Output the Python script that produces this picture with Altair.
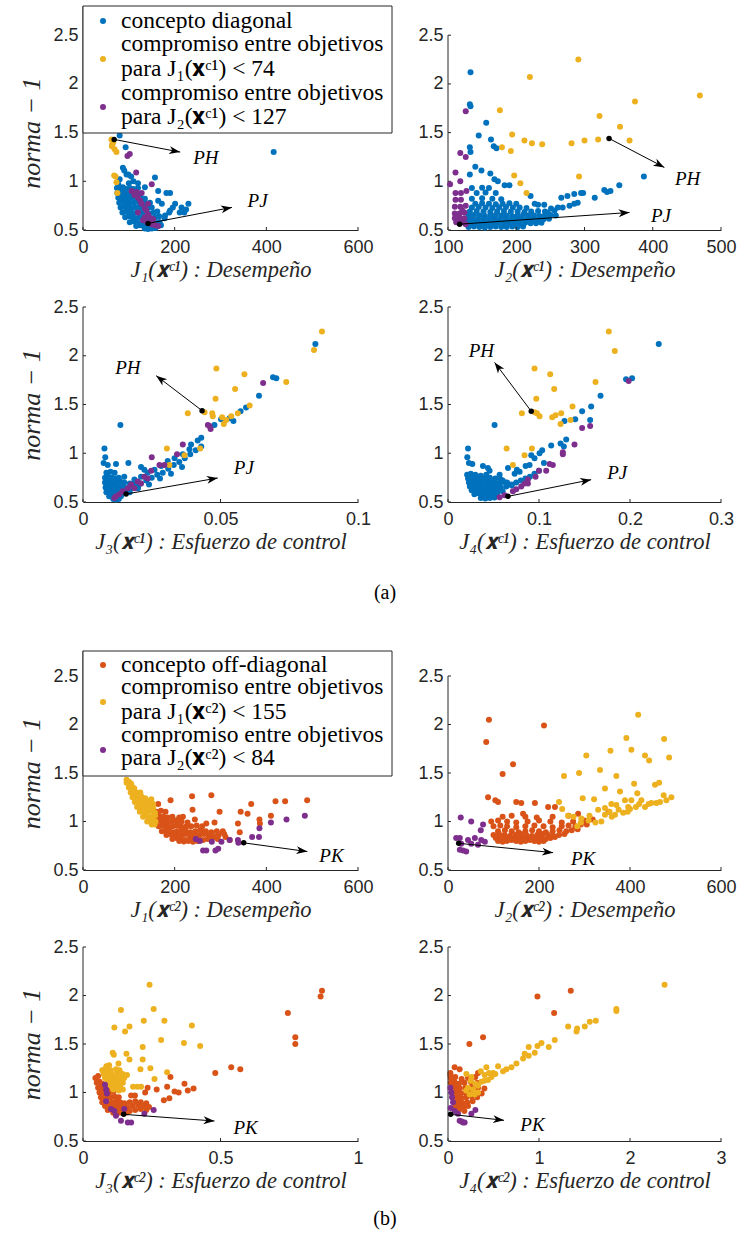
import math
import altair as alt
import pandas as pd

# ---------------- style constants ----------------
C_BLUE = "#0072BD"
C_ORANGE = "#D95319"
C_YELLOW = "#EDB120"
C_PURPLE = "#7E2F8E"
C_AXIS = "#262626"
SERIF = "Liberation Serif"
SANS = "Liberation Sans"
PT_SIZE = 36
HEAD_PATH = "M0,0L-1,-0.36L-0.72,0L-1,0.36Z"

Y_TICKS = [0.5, 1, 1.5, 2, 2.5]
BX = "\U0001D431"

# ---------------- data: (a) concepto diagonal ----------------
A1_MAIN = [(416,1.30),(80,1.47),(93,1.35),(87,1.14),(95,1.07),(90,1.11),(99,1.07),(80,1.02),(105,1.05),(157,1.04),
           (164,0.90),(135,0.94),(182,0.88),(190,0.88),(201,0.77),(215,0.73),(230,0.77),(221,0.68),(190,0.70),(179,0.65),
           (172,0.77),(164,0.80),(211,0.68),(225,0.71),(196,0.73),(167,0.58),(178,0.62),(188,0.68),(120,0.98),(110,1.00),
           (100,0.98),(77,0.97),
           (74,.93),(80,.93),(87,.94),(94,.92),(102,.93),(110,.92),(120,.93),
           (75,.88),(82,.89),(90,.88),(98,.87),(106,.88),(115,.88),(125,.87),
           (77,.83),(84,.84),(92,.83),(100,.82),(108,.83),(117,.84),(126,.83),(135,.82),
           (79,.78),(86,.79),(94,.78),(102,.77),(110,.78),(119,.79),(128,.78),(137,.77),(146,.78),
           (82,.73),(90,.74),(98,.73),(106,.72),(114,.73),(122,.74),(131,.73),(140,.72),(150,.73),
           (86,.68),(94,.69),(102,.68),(110,.67),(118,.68),(126,.69),(135,.68),(144,.67),(154,.68),(162,.69),
           (92,.63),(100,.64),(108,.63),(116,.62),(124,.63),(132,.64),(141,.63),(150,.62),(158,.63),(166,.64),
           (102,.58),(110,.59),(118,.58),(126,.57),(134,.58),(142,.59),(150,.58),(158,.57),(166,.58),
           (116,.54),(124,.55),(132,.54),(140,.53),(148,.54),(156,.55),(164,.54),(170,.55),
           (135,.515),(142,.51),(150,.515),(158,.52)]
A1_J1 = [(62,1.43),(64,1.38),(69,1.33),(73,1.30),(66,1.40),(63,1.36),(71,1.05),(68,1.06),(73,0.99),(75,0.88)]
A1_J2 = [(97,1.26),(102,1.28),(116,1.09),(150,0.97),(106,0.90),(117,0.89),(128,0.88),(120,0.83),(128,0.77),(142,0.77),
         (135,0.72),(120,0.68),(142,0.66),(153,0.61),(146,0.58),(157,0.55),(131,0.60),(164,0.54),(135,0.63),(112,0.86),
         (125,0.80),(138,0.70),(150,0.56),(140,0.58),(148,0.62)]

A2_MAIN = [(133,2.12),(132,1.79),(133,1.77),(156,1.60),(145,1.47),(163,1.43),(167,1.36),(171,1.34),(132,1.35),(133,1.30),
           (140,1.15),(149,1.11),(132,1.07),(162,1.08),(168,1.02),(173,1.00),(183,0.96),(190,0.96),(221,0.85),(387,1.05),
           (351,0.96),(266,0.83),(275,0.85),(285,0.87),(295,0.88),(298,0.88),(315,0.83),(329,0.91),(333,0.89),(338,0.90),
           (268,0.73),(278,0.75),(285,0.77),(290,0.78),(261,0.73),(251,0.72),(241,0.76),(232,0.76),(227,0.77),(256,0.70),
           (246,0.68),
           (130,.53),(138,.535),(146,.53),(154,.525),(162,.53),(170,.535),(178,.53),(186,.53),(194,.535),(202,.53),(210,.535),
           (125,.57),(133,.57),(141,.575),(149,.57),(157,.565),(165,.57),(173,.575),(181,.57),(189,.57),(197,.565),(205,.57),
           (213,.575),(221,.57),(229,.57),(237,.575),
           (128,.61),(136,.615),(144,.61),(152,.605),(160,.61),(168,.615),(176,.61),(184,.61),(192,.605),(200,.61),(208,.615),
           (216,.61),(224,.61),(232,.605),(240,.61),(248,.615),
           (130,.65),(138,.655),(146,.65),(154,.645),(162,.65),(170,.655),(178,.65),(186,.65),(194,.645),(202,.65),(210,.655),
           (218,.65),(226,.65),(234,.645),(242,.65),(250,.655),(258,.65),
           (132,.69),(142,.695),(152,.69),(162,.685),(172,.69),(182,.695),(192,.69),(202,.69),(212,.685),(222,.69),(232,.695),(242,.69),
           (135,.73),(145,.735),(155,.73),(165,.725),(175,.73),(185,.735),(195,.73),(205,.73),(215,.725),
           (140,.77),(150,.775),(160,.77),(170,.765),(180,.77),(190,.775),(200,.77),
           (135,.82),(150,.825),(165,.82),(178,.815),(142,.88),(155,.885),(170,.88),(135,.93),(150,.935),(160,.93)]
A2_J1 = [(291,2.25),(220,2.07),(469,1.88),(374,1.82),(176,1.73),(322,1.67),(352,1.56),(194,1.48),(212,1.42),(223,1.39),
         (238,1.38),(179,1.35),(192,1.31),(281,1.39),(300,1.42),(320,1.43),(366,1.42),(197,1.06),(206,0.98),(215,0.88),(292,1.05)]
A2_J2 = [(126,1.72),(118,1.29),(126,1.25),(111,1.09),(103,0.97),(118,1.00),(111,0.88),(119,0.88),(127,0.90),(111,0.81),
         (119,0.81),(110,0.74),(118,0.74),(126,0.75),(110,0.67),(117,0.67),(124,0.68),(110,0.62),(117,0.62),(124,0.62),
         (112,0.58),(120,0.58),(126,0.56),(114,0.65),(121,0.70)]

A3_MAIN = [(0.0136,1.29),(0.0845,2.12),(0.0691,1.78),(0.0703,1.77),(0.0640,1.59),(0.0593,1.47),(0.0573,1.43),(0.0547,1.33),
           (0.0502,1.35),(0.0533,1.36),(0.0478,1.29),(0.0430,1.16),(0.0417,1.13),(0.0393,1.09),(0.0387,1.04),(0.0363,0.99),
           (0.0333,0.95),(0.0308,0.92),(0.0284,0.87),(0.0260,0.83),(0.0235,0.80),(0.0211,0.76),(0.0187,0.73),(0.0078,1.05),
           (0.0081,0.96),(0.0075,0.90),(0.0090,0.88),(0.0120,0.89),(0.0165,0.90),(0.0211,0.86),(0.0223,0.83),
           (0.017,0.63),(0.019,0.66),(0.021,0.69),(0.023,0.72),(0.025,0.75),(0.027,0.78),(0.029,0.80),(0.031,0.84),(0.033,0.88),
           (0.035,0.91),(0.037,0.95),(0.039,0.99),(0.041,1.03),(0.043,1.07),(0.020,0.64),(0.024,0.68),(0.028,0.74),(0.032,0.79),
           (0.036,0.86),
           (0.0085,.80),(0.0100,.81),(0.0115,.80),
           (0.0080,.75),(0.0092,.76),(0.0105,.75),(0.0118,.74),(0.0130,.75),(0.0150,.76),
           (0.0080,.70),(0.0090,.71),(0.0100,.70),(0.0110,.69),(0.0120,.70),(0.0135,.71),(0.0150,.70),(0.0170,.69),(0.0190,.70),
           (0.0082,.65),(0.0092,.66),(0.0102,.65),(0.0112,.64),(0.0122,.65),(0.0135,.66),(0.0150,.65),(0.0165,.64),(0.0180,.65),(0.0200,.66),
           (0.0085,.60),(0.0095,.61),(0.0105,.60),(0.0115,.59),(0.0125,.60),(0.0140,.61),(0.0155,.60),(0.0170,.60),
           (0.0095,.56),(0.0105,.57),(0.0115,.56),(0.0125,.55),(0.0138,.56),(0.0110,.53),(0.0120,.525),(0.0130,.53)]
A3_J1 = [(0.0869,2.25),(0.0840,2.06),(0.0485,1.87),(0.0587,1.81),(0.0739,1.73),(0.0553,1.66),(0.0482,1.56),(0.0381,1.41),
         (0.0442,1.42),(0.0470,1.41),(0.0472,1.38),(0.0506,1.37),(0.0512,1.30),(0.0521,1.34),(0.0539,1.38),(0.0563,1.41),
         (0.0606,1.49),(0.0305,1.05),(0.0369,0.98),(0.0314,0.88),(0.0426,1.05)]
A3_J2 = [(0.0655,1.72),(0.0460,1.28),(0.0464,1.25),(0.0454,1.29),(0.0363,1.09),(0.0342,0.99),(0.0250,0.96),(0.0278,0.88),
         (0.0296,0.88),(0.0248,0.82),(0.0223,0.76),(0.0199,0.71),(0.0175,0.68),(0.0163,0.64),(0.0144,0.61),(0.0132,0.58),
         (0.0120,0.56),(0.0114,0.54),(0.0187,0.64),(0.0211,0.69),(0.0235,0.74)]

A4_MAIN = [(0.2316,2.12),(0.2023,1.77),(0.1957,1.76),(0.1676,1.59),(0.1573,1.48),(0.1474,1.43),(0.1398,1.35),(0.1280,1.33),
           (0.1562,1.34),(0.0512,1.29),(0.1299,1.14),(0.1237,1.10),(0.1273,1.07),(0.1134,1.08),(0.1035,1.03),(0.1006,1.00),
           (0.0951,0.95),(0.0915,0.98),(0.1054,0.90),(0.0896,0.88),(0.0853,0.87),(0.0787,0.81),(0.0732,0.79),(0.0659,0.85),
           (0.0757,0.83),(0.0220,1.05),(0.0212,0.96),(0.0230,0.90),(0.0267,0.89),(0.0384,0.87),(0.0439,0.85),(0.0457,0.82),
           (0.0567,0.78),(0.075,0.70),(0.080,0.72),(0.085,0.74),(0.090,0.76),(0.095,0.79),(0.100,0.82),(0.070,0.68),(0.065,0.70),
           (0.060,0.72),
           (0.021,.78),(0.025,.79),(0.030,.78),(0.036,.77),(0.042,.78),
           (0.022,.74),(0.026,.75),(0.031,.74),(0.036,.73),(0.041,.74),(0.046,.75),(0.052,.74),(0.058,.73),
           (0.023,.70),(0.027,.71),(0.032,.70),(0.037,.69),(0.042,.70),(0.047,.71),(0.052,.70),(0.057,.69),(0.063,.70),
           (0.024,.66),(0.028,.67),(0.033,.66),(0.038,.65),(0.043,.66),(0.048,.67),(0.053,.66),(0.058,.65),(0.064,.66),(0.070,.67),
           (0.026,.62),(0.030,.63),(0.035,.62),(0.040,.61),(0.045,.62),(0.050,.63),(0.055,.62),(0.060,.61),
           (0.029,.58),(0.034,.59),(0.039,.58),(0.044,.57),(0.049,.58),(0.054,.59),
           (0.036,.54),(0.041,.535),(0.046,.54),(0.051,.545)]
A4_J1 = [(0.1767,2.25),(0.1833,2.05),(0.0951,1.87),(0.1123,1.81),(0.1621,1.73),(0.1167,1.66),(0.0970,1.56),(0.0812,1.41),
         (0.0951,1.42),(0.0977,1.41),(0.1006,1.38),(0.1145,1.37),(0.1182,1.39),(0.1244,1.41),(0.1237,1.30),(0.1346,1.34),
         (0.1368,1.48),(0.0644,1.05),(0.0922,1.05),(0.0841,0.98),(0.0713,0.88)]
A4_J2 = [(0.1985,1.74),(0.1474,1.26),(0.1562,1.28),(0.1390,1.09),(0.1262,0.99),(0.1262,1.01),(0.1152,0.88),(0.1116,0.89),
         (0.1079,0.82),(0.0999,0.82),(0.0962,0.76),(0.0878,0.73),(0.0841,0.69),(0.0805,0.66),(0.0750,0.63),(0.0713,0.61),
         (0.0622,0.57),(0.0567,0.55),(0.0878,0.69)]

# ---------------- data: (b) concepto off-diagonal ----------------
B1_MAIN = [(489,1.22),(441,1.21),(420,1.21),(410,1.06),(367,1.18),(344,1.10),(359,1.08),(385,1.02),(386,0.98),(338,0.98),
           (342,0.89),(280,1.27),(298,1.10),(269,0.98),(287,0.99),(238,1.26),(239,1.12),(244,1.02),(191,1.22),(204,1.01),
           (164,1.18),(218,1.05),(226,0.95),(258,0.91),(305,0.90),(311,0.84),(320,0.81),
           (160,1.10),(170,1.11),(180,1.10),
           (158,1.05),(165,1.06),(175,1.05),(185,1.04),(195,1.05),(210,1.04),
           (160,1.00),(168,1.01),(176,1.00),(185,0.99),(195,1.00),(205,1.01),(215,1.00),(228,0.99),
           (165,.95),(172,.96),(180,.95),(188,.94),(196,.95),(205,.96),(214,.95),(224,.94),(236,.95),(248,.96),(260,.95),
           (172,.90),(180,.91),(188,.90),(196,.89),(205,.90),(214,.91),(224,.90),(234,.89),(245,.90),(256,.91),(268,.90),(280,.89),(292,.90),
           (182,.86),(190,.87),(198,.86),(206,.85),(215,.86),(224,.87),(234,.86),(244,.85),(254,.86),(264,.87),(274,.86),(284,.85),(296,.86),(308,.87),
           (195,.82),(204,.83),(213,.82),(222,.81),(232,.82),(242,.83),(252,.82),(262,.81),(272,.82),(282,.83),(294,.82),
           (210,.80),(220,.795),(230,.80),(240,.79),(250,.80)]
B1_J1 = [(113,1.50),(144,1.50),(95,1.43),(102,1.40),(109,1.35),(127,1.26),(116,1.30),(149,1.23),(153,1.18),
         (95,1.40),(100,1.41),(105,1.39),(100,1.35),(106,1.36),(112,1.34),(104,1.30),(110,1.31),(116,1.29),(125,1.30),
         (108,1.25),(114,1.26),(120,1.24),(128,1.25),(136,1.24),(113,1.20),(119,1.21),(125,1.19),(132,1.20),(140,1.21),
         (150,1.19),(118,1.15),(124,1.16),(130,1.14),(137,1.15),(145,1.16),(153,1.14),(124,1.10),(130,1.11),(136,1.09),
         (143,1.10),(150,1.11),(157,1.09),(131,1.05),(137,1.06),(144,1.04),(151,1.05),(157,1.06),(140,1.00),(147,1.01),
         (153,0.99),(158,1.00),(150,0.97),(156,0.97)]
B1_J2 = [(246,0.82),(255,0.80),(281,0.79),(302,0.79),(320,0.81),(338,0.81),(339,0.78),(262,0.70),(269,0.70),(289,0.70),
         (295,0.72),(369,0.84),(384,0.84),(385,0.93),(410,0.99),(444,1.02),(484,1.06)]

B2_MAIN = [(90,2.05),(211,1.99),(84,1.82),(143,1.59),(120,1.49),(88,1.25),(104,1.22),(110,1.20),(150,1.20),(161,1.19),
           (191,1.19),(220,1.15),(235,1.15),(165,1.08),(286,1.08),(353,1.10),
           (110,.80),(120,.79),(130,.80),(140,.81),(150,.80),(160,.79),(170,.80),(180,.81),(190,.80),(200,.79),(210,.80),
           (105,.83),(115,.84),(125,.83),(135,.82),(145,.83),(155,.84),(165,.83),(175,.82),(185,.83),(195,.84),(205,.83),
           (215,.82),(225,.83),(235,.84),
           (100,.86),(112,.87),(124,.86),(136,.85),(148,.86),(160,.87),(172,.86),(184,.85),(196,.86),(208,.87),(220,.86),
           (232,.85),(244,.86),(256,.87),
           (110,.90),(125,.91),(140,.90),(155,.89),(170,.90),(185,.91),(200,.90),(215,.89),(230,.90),(245,.91),(260,.90),
           (272,.91),(285,.92),
           (100,.95),(115,.96),(130,.95),(150,.94),(170,.95),(190,.96),(210,.95),(230,.94),(250,.95),(265,.96),(280,.95),
           (292,.97),(305,.97),
           (95,1.00),(110,1.01),(130,1.00),(150,0.99),(175,1.00),(200,1.01),(225,1.00),(250,0.99),(275,1.00),(300,1.01),(318,1.02),
           (120,1.05),(140,1.06),(170,1.05),(195,1.04),(230,1.05),(265,1.06)]
B2_J1 = [(418,2.10),(392,1.86),(475,1.85),(357,1.73),(403,1.74),(433,1.68),(442,1.63),(486,1.66),(304,1.68),(288,1.50),
         (255,1.47),(334,1.53),(370,1.47),(345,1.34),(378,1.31),(409,1.39),(455,1.38),(464,1.40),(296,1.24),(321,1.23),
         (359,1.18),(389,1.22),(416,1.29),(403,1.22),(491,1.25),(474,1.27),(244,1.20),(251,1.13),(264,1.06),(276,1.05),
         (292,0.99),(309,1.01),(311,1.06),(324,0.99),(337,1.00),(345,1.07),(367,1.07),(385,1.09),(396,1.15),(413,1.15),
         (433,1.15),(447,1.19),(458,1.19),(466,1.20),(441,1.18),(425,1.22),(345,1.14),(370,1.17),(330,1.12),(293,1.03),
         (284,0.95),(355,1.10),(375,1.12),(400,1.13),(420,1.18),(480,1.22),(360,1.05),(395,1.10)]
B2_J2 = [(28,1.04),(51,1.00),(77,0.97),(72,0.91),(18,0.83),(26,0.83),(44,0.81),(29,0.77),(33,0.70),(40,0.69),(26,0.71),
         (51,0.77),(66,0.76),(73,0.81),(81,0.79),(59,0.83)]

B3_MAIN = [(0.864,1.99),(0.869,2.05),(0.745,1.82),(0.772,1.57),(0.772,1.50),(0.539,1.26),(0.572,1.24),(0.481,1.20),
           (0.318,1.16),(0.369,1.09),(0.402,1.04),(0.306,1.06),(0.333,1.01),(0.348,1.00),(0.381,1.02),(0.294,0.92),
           (0.314,0.94),(0.268,1.03),(0.226,1.00),(0.235,1.05),(0.189,0.97),(0.175,0.97),
           (0.045,1.15),(0.055,1.17),(0.050,1.10),(0.060,1.11),(0.070,1.09),
           (0.055,1.05),(0.065,1.06),(0.075,1.04),(0.090,1.05),
           (0.060,1.00),(0.070,1.01),(0.080,0.99),(0.095,1.00),(0.110,1.01),
           (0.065,.95),(0.075,.96),(0.085,.94),(0.100,.95),(0.115,.96),(0.130,.95),
           (0.070,.90),(0.080,.91),(0.090,.89),(0.105,.90),(0.120,.91),(0.135,.90),(0.150,.89),(0.170,.90),(0.190,.91),(0.210,.90),(0.230,.89),
           (0.080,.86),(0.090,.87),(0.100,.85),(0.115,.86),(0.130,.87),(0.145,.86),(0.160,.85),(0.180,.86),(0.200,.87),(0.220,.86),(0.240,.85),
           (0.090,.82),(0.100,.83),(0.110,.81),(0.125,.82),(0.140,.83),(0.155,.82),(0.170,.81),(0.190,.82),(0.210,.83),(0.230,.82),
           (0.110,.79),(0.125,.785),(0.140,.79),(0.160,.795)]
B3_J1 = [(0.242,2.11),(0.138,1.85),(0.257,1.86),(0.221,1.74),(0.296,1.74),(0.169,1.68),(0.114,1.67),(0.153,1.63),(0.396,1.69),
         (0.284,1.54),(0.367,1.51),(0.426,1.48),(0.217,1.47),(0.158,1.40),(0.108,1.41),(0.112,1.39),(0.129,1.30),(0.169,1.34),
         (0.217,1.34),(0.245,1.25),(0.209,1.24),(0.306,1.21),(0.260,1.14),(0.182,1.06),(0.197,1.06),(0.211,1.06),(0.133,1.23),
         (0.144,1.19),(0.160,1.18),
         (0.085,1.27),(0.095,1.28),(0.070,1.23),(0.080,1.24),(0.090,1.22),(0.100,1.23),(0.120,1.24),(0.075,1.19),(0.085,1.20),
         (0.095,1.18),(0.105,1.19),(0.125,1.20),(0.140,1.18),(0.080,1.15),(0.090,1.16),(0.100,1.14),(0.110,1.15),(0.120,1.16),
         (0.135,1.14),(0.150,1.15),(0.090,1.11),(0.100,1.12),(0.110,1.10),(0.120,1.11),(0.130,1.12),(0.145,1.10),(0.100,1.07),
         (0.110,1.08),(0.120,1.06),(0.135,1.07),(0.110,1.03),(0.120,1.04),(0.130,1.02),(0.145,1.03)]
B3_J2 = [(0.080,1.08),(0.084,1.03),(0.087,0.99),(0.084,0.91),(0.102,0.83),(0.114,0.81),(0.120,0.76),(0.138,0.71),(0.163,0.69),
         (0.175,0.69),(0.150,0.83),(0.223,0.78),(0.257,0.82)]

B4_MAIN = [(0.983,1.99),(1.349,2.05),(1.166,1.82),(0.385,1.57),(0.235,1.50),(0.026,1.20),(0.073,1.26),(0.128,1.24),(0.073,1.10),
           (0.330,1.20),(0.026,1.18),
           (0.03,1.15),(0.08,1.16),(0.15,1.14),(0.22,1.15),(0.30,1.16),
           (0.03,1.10),(0.07,1.11),(0.12,1.09),(0.18,1.10),(0.25,1.11),(0.32,1.10),
           (0.04,1.05),(0.08,1.06),(0.13,1.04),(0.19,1.05),(0.26,1.06),(0.33,1.05),(0.40,1.04),
           (0.05,1.00),(0.09,1.01),(0.14,0.99),(0.19,1.00),(0.25,1.01),(0.31,1.00),(0.37,0.99),
           (0.06,.95),(0.10,.96),(0.15,.94),(0.20,.95),(0.26,.96),(0.32,.95),
           (0.07,.90),(0.11,.91),(0.16,.89),(0.21,.90),(0.27,.91),
           (0.08,.86),(0.12,.87),(0.17,.85),(0.22,.86),(0.09,.82),(0.13,.83),(0.18,.81)]
B4_J1 = [(2.38,2.11),(1.85,1.86),(1.85,1.84),(1.624,1.74),(1.558,1.73),(1.503,1.68),(1.419,1.66),(1.412,1.63),(1.320,1.68),
         (1.173,1.54),(1.107,1.47),(1.027,1.51),(0.983,1.48),(0.887,1.47),(0.953,1.41),(0.843,1.40),(0.887,1.38),(0.825,1.35),
         (0.752,1.30),(0.697,1.26),(0.642,1.24),(0.605,1.22),(0.550,1.27),(0.422,1.26),(0.495,1.20),(0.477,1.16),(0.440,1.13),
         (0.403,1.18),(0.367,1.11),(0.330,1.07),(0.275,1.03),(0.238,0.98),(0.293,0.98),(0.220,1.05),(0.330,1.00),(0.202,1.19),
         (0.257,1.16),(0.36,1.22),(0.45,1.20),(0.52,1.19),(0.40,1.12),(0.30,1.09),(0.25,1.12),(0.20,1.02)]
B4_J2 = [(0.026,1.05),(0.037,1.00),(0.044,0.95),(0.055,0.90),(0.073,0.81),(0.110,0.78),(0.128,0.71),(0.165,0.69),(0.183,0.69),
         (0.257,0.78),(0.301,0.82),(0.029,0.84),(0.15,0.70)]

# arrows: (x_start, y_start, x_tip, y_tip); labels: (x, y, text)
A1_ARROWS = [(68,1.43,212,1.30),(142,0.568,325,0.732)]
A1_LABELS = [(268,1.244,"PH"),(381,0.80,"PJ")]
A2_ARROWS = [(336,1.44,417,1.143),(117,0.56,366,0.68)]
A2_LABELS = [(451,1.02,"PH"),(412,0.647,"PJ")]
A3_ARROWS = [(0.0433,1.437,0.0266,1.796),(0.01566,0.582,0.049,0.746)]
A3_LABELS = [(0.0163,1.87,"PH"),(0.0585,0.85,"PJ")]
A4_ARROWS = [(0.0915,1.43,0.0512,1.932),(0.0659,0.558,0.1573,0.729)]
A4_LABELS = [(0.0366,2.045,"PH"),(0.186,0.797,"PJ")]
B1_ARROWS = [(350.6,0.78,489.5,0.69)]
B1_LABELS = [(542,0.648,"PK")]
B2_ARROWS = [(23.5,0.775,231,0.679)]
B2_LABELS = [(297,0.61,"PK")]
B3_ARROWS = [(0.148,0.775,0.478,0.706)]
B3_LABELS = [(0.591,0.63,"PK")]
B4_ARROWS = [(0.029,0.775,0.616,0.713)]
B4_LABELS = [(0.928,0.665,"PK")]

LEG_A = ["concepto diagonal", "compromiso entre objetivos", "para J\u2081(" + BX + "\u1d9c\u00b9) < 74",
         "compromiso entre objetivos", "para J\u2082(" + BX + "\u1d9c\u00b9) < 127"]
LEG_B = ["concepto off-diagonal", "compromiso entre objetivos", "para J\u2081(" + BX + "\u1d9c\u00b2) < 155",
         "compromiso entre objetivos", "para J\u2082(" + BX + "\u1d9c\u00b2) < 84"]


def xt(i, c, txt):
    return "J" + "\u2080\u2081\u2082\u2083\u2084"[i] + "(" + BX + "\u1d9c" + c + ") : " + txt


def pts(lst):
    return pd.DataFrame({"x": [p[0] for p in lst], "y": [p[1] for p in lst]})


ONE = pd.DataFrame({"k": [0]})


def make_panel(p):
    W, H = p["w"], p["h"]
    xdom, ydom = p["xdom"], p["ydom"]
    sx = alt.Scale(domain=xdom, nice=False, zero=False)
    sy = alt.Scale(domain=ydom, nice=False, zero=False)

    def X(f, axis=None):
        if axis is None:
            return alt.X(f + ":Q", scale=sx)
        return alt.X(f + ":Q", scale=sx, axis=axis)

    def Y(f, axis=None):
        if axis is None:
            return alt.Y(f + ":Q", scale=sy)
        return alt.Y(f + ":Q", scale=sy, axis=axis)

    xaxis = alt.Axis(values=p["xticks"], labelExpr="'' + datum.value", grid=False, ticks=False, tickSize=0,
                     domain=True, domainColor=C_AXIS, domainWidth=1, labelFont=SANS, labelFontSize=18,
                     labelColor=C_AXIS, labelPadding=8, labelFlush=False, labelOverlap=False,
                     title=p["xtitle"], titleFont=SERIF, titleFontSize=22.5, titleFontStyle="italic",
                     titleFontWeight="normal", titleColor=C_AXIS, titleY=46, titleBaseline="alphabetic")
    ykw = dict(values=Y_TICKS, labelExpr="'' + datum.value", grid=False, ticks=False, tickSize=0, domain=False,
               labelFont=SANS, labelFontSize=18, labelColor=C_AXIS, labelPadding=5, labelFlush=False,
               labelOverlap=False)
    if p.get("ytitle"):
        ykw.update(title=p["ytitle"], titleFont=SERIF, titleFontSize=26, titleFontStyle="italic",
                   titleFontWeight="normal", titleColor=C_AXIS, titleAngle=270, titleX=-52,
                   titleY=p["ytitle_y"], titleBaseline="middle", titleAlign="center")
    else:
        ykw.update(title="")
    yaxis = alt.Axis(**ykw)

    layers = []
    layers.append(alt.Chart(pts(p["main"])).mark_circle(size=PT_SIZE, opacity=1, color=p["c_main"])
                  .encode(x=X("x", xaxis), y=Y("y", yaxis)))
    yl = pd.DataFrame({"y0": [ydom[0]], "y1": [p["yline_top"]]})
    layers.append(alt.Chart(yl).mark_rule(color=C_AXIS, strokeWidth=1)
                  .encode(x=alt.value(0), y=Y("y0"), y2=alt.Y2("y1")))
    layers.append(alt.Chart(pd.DataFrame({"x": p["xticks"]})).mark_rule(color=C_AXIS, strokeWidth=1)
                  .encode(x=X("x"), y=alt.value(H), y2=alt.value(H - 3)))
    layers.append(alt.Chart(pd.DataFrame({"y": Y_TICKS})).mark_rule(color=C_AXIS, strokeWidth=1)
                  .encode(y=Y("y"), x=alt.value(0), x2=alt.value(3)))
    layers.append(alt.Chart(pts(p["j1"])).mark_circle(size=PT_SIZE, opacity=1, color=C_YELLOW)
                  .encode(x=X("x"), y=Y("y")))
    layers.append(alt.Chart(pts(p["j2"])).mark_circle(size=PT_SIZE, opacity=1, color=C_PURPLE)
                  .encode(x=X("x"), y=Y("y")))
    sxp = W / (xdom[1] - xdom[0])
    syp = H / (ydom[1] - ydom[0])
    arr = pd.DataFrame({
        "x0": [a[0] for a in p["arrows"]], "y0": [a[1] for a in p["arrows"]],
        "x1": [a[2] for a in p["arrows"]], "y1": [a[3] for a in p["arrows"]],
        "ang": [math.degrees(math.atan2(-(a[3] - a[1]) * syp, (a[2] - a[0]) * sxp)) % 360 for a in p["arrows"]],
    })
    layers.append(alt.Chart(arr).mark_rule(color="black", strokeWidth=1)
                  .encode(x=X("x0"), y=Y("y0"), x2=alt.X2("x1"), y2=alt.Y2("y1")))
    layers.append(alt.Chart(arr).mark_point(shape=HEAD_PATH, filled=True, color="black", opacity=1, size=480,
                                            strokeWidth=0)
                  .encode(x=X("x1"), y=Y("y1"), angle=alt.Angle("ang:Q", scale=None)))
    layers.append(alt.Chart(arr).mark_circle(size=30, opacity=1, color="black")
                  .encode(x=X("x0"), y=Y("y0")))
    lab = pd.DataFrame({"x": [l[0] for l in p["labels"]], "y": [l[1] for l in p["labels"]],
                        "t": [l[2] for l in p["labels"]]})
    layers.append(alt.Chart(lab).mark_text(font=SERIF, fontStyle="italic", fontSize=19, color="black",
                                           align="center", baseline="middle")
                  .encode(x=X("x"), y=Y("y"), text="t:N"))
    if p.get("legend"):
        lg = p["legend"]
        top = lg["top"]
        layers.append(alt.Chart(ONE).mark_rect(fill="white", stroke=C_AXIS, strokeWidth=1)
                      .encode(x=alt.value(0), x2=alt.value(lg["w"]), y=alt.value(top), y2=alt.value(top + lg["h"])))
        for (my, col) in zip(lg["marker_y"], [p["c_main"], C_YELLOW, C_PURPLE]):
            layers.append(alt.Chart(ONE).mark_circle(size=PT_SIZE, opacity=1, color=col)
                          .encode(x=alt.value(20), y=alt.value(top + my)))
        for (ty, txt) in zip(lg["text_y"], lg["texts"]):
            layers.append(alt.Chart(ONE).mark_text(font=SERIF, fontSize=23.5, color="black", align="left",
                                                   baseline="middle", text=txt)
                          .encode(x=alt.value(38), y=alt.value(top + ty)))
    if p.get("caption"):
        cx, cy, ct = p["caption"]
        layers.append(alt.Chart(ONE).mark_text(font=SERIF, fontSize=20, color="black", align="center",
                                               baseline="middle", text=ct)
                      .encode(x=alt.value(cx), y=alt.value(cy)))
    return alt.layer(*layers).properties(width=W, height=H)


WL, WR = 275, 273
H1, H2, H3, H4 = 224, 195, 291, 194
YS = 97.0  # pixels per unit of norma-1 in group (b)
B_TOP = 0.5 + H3 / YS

panels = [
    dict(main=A1_MAIN, j1=A1_J1, j2=A1_J2, c_main=C_BLUE, xdom=[0, 600], xticks=[0, 200, 400, 600],
         ydom=[0.5, 2.8], yline_top=2.8, w=WL, h=H1, xtitle=xt(1, "\u00b9", "Desempeño"),
         ytitle="norma \u2212 1", ytitle_y=H1 * (2.8 - 1.5) / 2.3, arrows=A1_ARROWS, labels=A1_LABELS,
         legend=dict(top=0, w=309, h=127, marker_y=[15, 53, 101], text_y=[15, 38, 63, 87, 111], texts=LEG_A)),
    dict(main=A2_MAIN, j1=A2_J1, j2=A2_J2, c_main=C_BLUE, xdom=[100, 500], xticks=[100, 200, 300, 400, 500],
         ydom=[0.5, 2.8], yline_top=2.5, w=WR, h=H1, xtitle=xt(2, "\u00b9", "Desempeño"),
         arrows=A2_ARROWS, labels=A2_LABELS),
    dict(main=A3_MAIN, j1=A3_J1, j2=A3_J2, c_main=C_BLUE, xdom=[0, 0.1], xticks=[0, 0.05, 0.1],
         ydom=[0.5, 2.5], yline_top=2.5, w=WL, h=H2, xtitle=xt(3, "\u00b9", "Esfuerzo de control"),
         ytitle="norma \u2212 1", ytitle_y=H2 / 2, arrows=A3_ARROWS, labels=A3_LABELS),
    dict(main=A4_MAIN, j1=A4_J1, j2=A4_J2, c_main=C_BLUE, xdom=[0, 0.3], xticks=[0, 0.1, 0.2, 0.3],
         ydom=[0.5, 2.5], yline_top=2.5, w=WR, h=H2, xtitle=xt(4, "\u00b9", "Esfuerzo de control"),
         arrows=A4_ARROWS, labels=A4_LABELS),
    dict(main=B1_MAIN, j1=B1_J1, j2=B1_J2, c_main=C_ORANGE, xdom=[0, 600], xticks=[0, 200, 400, 600],
         ydom=[0.5, B_TOP], yline_top=2.76, w=WL, h=H3, xtitle=xt(1, "\u00b2", "Desempeño"),
         ytitle="norma \u2212 1", ytitle_y=H3 - YS, arrows=B1_ARROWS, labels=B1_LABELS,
         legend=dict(top=72, w=309, h=125, marker_y=[14, 51, 99], text_y=[14, 36, 61, 84, 107], texts=LEG_B),
         caption=(302, 14, "(a)")),
    dict(main=B2_MAIN, j1=B2_J1, j2=B2_J2, c_main=C_ORANGE, xdom=[0, 600], xticks=[0, 200, 400, 600],
         ydom=[0.5, B_TOP], yline_top=2.5, w=WR, h=H3, xtitle=xt(2, "\u00b2", "Desempeño"),
         arrows=B2_ARROWS, labels=B2_LABELS),
    dict(main=B3_MAIN, j1=B3_J1, j2=B3_J2, c_main=C_ORANGE, xdom=[0, 1], xticks=[0, 0.5, 1],
         ydom=[0.5, 2.5], yline_top=2.5, w=WL, h=H4, xtitle=xt(3, "\u00b2", "Esfuerzo de control"),
         ytitle="norma \u2212 1", ytitle_y=H4 / 2, arrows=B3_ARROWS, labels=B3_LABELS,
         caption=(302, 272, "(b)")),
    dict(main=B4_MAIN, j1=B4_J1, j2=B4_J2, c_main=C_ORANGE, xdom=[0, 3], xticks=[0, 1, 2, 3],
         ydom=[0.5, 2.5], yline_top=2.5, w=WR, h=H4, xtitle=xt(4, "\u00b2", "Esfuerzo de control"),
         arrows=B4_ARROWS, labels=B4_LABELS),
]

chart = alt.concat(*[make_panel(p) for p in panels], columns=2, spacing={"row": 77, "column": 90},
                   bounds="flush").properties(
    padding={"left": 17, "top": 5, "right": 0, "bottom": 5},
    background="white",
).configure_view(stroke=None)

chart.save("out.html", embed_options={"renderer": "svg", "actions": False})
